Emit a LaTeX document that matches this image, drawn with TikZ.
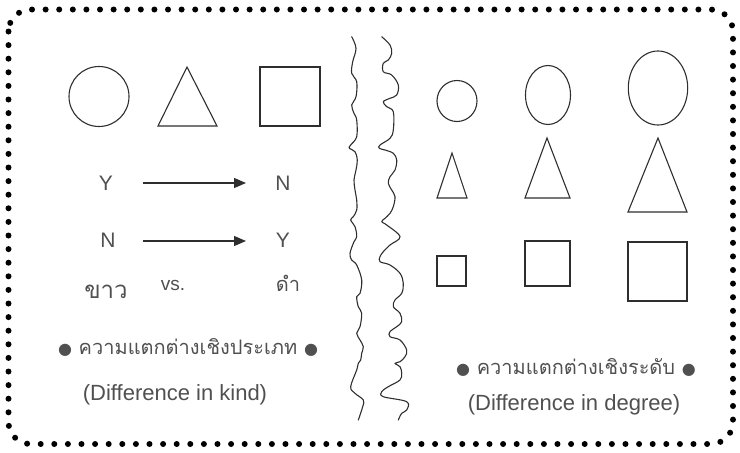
\documentclass[tikz,border=0pt]{standalone}
\usepackage{fontspec}
\setmainfont{Liberation Sans}
\newfontfamily\thaifont[Script=Thai]{Loma}
\newfontfamily\dejavu{DejaVu Sans}
\usetikzlibrary{arrows.meta}
\definecolor{ink}{HTML}{2E2E2E}
\definecolor{txt}{HTML}{505050}
\tikzset{
  shp/.style={draw=ink, line width=1.1pt},
  lbl/.style={text=txt, inner sep=0pt, font=\fontsize{21}{24}\selectfont},
  thai/.style={text=txt, inner sep=0pt, font=\thaifont\fontsize{20}{24}\selectfont},
  eng/.style={text=txt, inner sep=0pt, font=\fontsize{22}{26}\selectfont},
  arr/.style={draw=ink, line width=1.2pt, -{Triangle[length=12pt,width=10pt]}},
  wave/.style={draw=ink, line width=1.1pt, line cap=round, line join=round},
  border/.style={draw=black, line width=6pt, line cap=round, dash pattern=on 0pt off 13.6pt, rounded corners=22pt}
}
\newcommand{\dotb}{{\dejavu\fontsize{16}{18}\selectfont ●}}
\begin{document}
\begin{tikzpicture}[x=1pt,y=-1pt]
\useasboundingbox (0,0) rectangle (740,453);
\draw[border] (8.5,9.5) rectangle (733,444);
% left shapes
\node[shp, circle, minimum size=60pt, inner sep=0pt] (c1) at (99,96.5) {};
\draw[shp] (187,67) -- (217,126) -- (158,126) -- cycle;
\draw[shp] (260,67) rectangle (320,126);
% Y/N rows
\node[lbl] (y1) at (106,183) {Y};
\node[lbl] (n1) at (283,183) {N};
\node[lbl] (n2) at (108,240) {N};
\node[lbl] (y2) at (283,240) {Y};
\coordinate (a1s) at (143,183); \coordinate (a1e) at (246,183);
\coordinate (a2s) at (143,241); \coordinate (a2e) at (246,241);
\draw[arr] (a1s) -- (a1e);
\draw[arr] (a2s) -- (a2e);
\node[thai, font=\thaifont\fontsize{24}{28}\selectfont] (khao) at (106,292) {ขาว};
\node[eng, font=\fontsize{19}{22}\selectfont] (vs) at (173,285) {vs.};
\node[thai] (dam) at (288,283) {ดำ};
\node[thai] (kindth) at (188,347) {\dotb\ ความแตกต่างเชิงประเภท \dotb};
\node[eng] (kind) at (175,395) {(Difference in kind)};
% wavy lines
\draw[wave] plot[smooth, tension=0.6] coordinates {
(351.7,36.7)(356,48.3)(352.7,61.7)(351.7,73.3)(356.7,81.7)(356,96.7)(351.7,105)(354,113.3)(356.7,120)(356.7,136.7)(350.7,145)(349.3,148.3)(355,151.7)(357.3,160)(356,170)(354,180)(355,190)(356.7,200)(356.7,210)(353.3,216.7)(350.7,220)(355,226.7)(356.7,236.7)(354,241.7)(350,253.3)(351.7,260)(356.7,265)(361.7,280)(360,293.3)(356.7,296.7)(358.3,306.7)(361.7,313.3)(360,326.7)(356.7,333.3)(360,340)(363.3,346.7)(361.7,353.3)(360.7,360)(358.3,363.3)(356.7,370)(350.7,386.7)(355,393.3)(363.3,400)(362.7,406.7)(358.3,420)};
\draw[wave] plot[smooth, tension=0.6] coordinates {
(381.7,36.7)(390,45)(391.7,53.3)(388.3,60)(383.3,63.3)(383.3,71.7)(391.7,75)(398.3,85)(396.7,95)(390,98.3)(383.3,101.7)(386.7,106.7)(393.3,111.7)(393.3,130)(390,138.3)(380,145)(379.3,148.3)(385,150)(393.3,153.3)(396.7,160)(395,170)(390,176.7)(388.3,183.3)(391.7,190)(395,196.7)(393.3,206.7)(390,213.3)(385,218.3)(381.7,221.7)(386.7,225)(400,236.7)(390,245)(383.3,251.7)(380,256.7)(380,261.7)(390,265)(400,273.3)(403.3,283.3)(401.7,293.3)(395,300)(393.3,306.7)(400,313.3)(401.7,321.7)(396.7,326.7)(390,331.7)(390,336.7)(400,340)(406.7,350)(405,356.7)(400,361.7)(395,363.3)(400,366.7)(401.7,373.3)(400,380)(388.3,386.7)(381.7,391.7)(383.3,396.7)(406.7,401.7)(406.7,410)(401.7,413.3)(398.3,420)};
% right shapes
\draw[shp] (457,101) ellipse[x radius=20, y radius=20.5];
\draw[shp] (548,95) ellipse[x radius=22.5, y radius=29.5];
\draw[shp] (658,88) ellipse[x radius=29.7, y radius=37];
\draw[shp] (452,153) -- (467,198) -- (437,198) -- cycle;
\draw[shp] (547,138) -- (570,198) -- (525,198) -- cycle;
\draw[shp] (658,138) -- (687,212) -- (628,212) -- cycle;
\draw[shp] (437,256) rectangle (466,286);
\draw[shp] (525,241) rectangle (570,286);
\draw[shp] (628,242) rectangle (687,301);
\node[thai] (degth) at (576,367) {\dotb\ ความแตกต่างเชิงระดับ \dotb};
\node[eng] (deg) at (574,405) {(Difference in degree)};
\end{tikzpicture}
\end{document}
